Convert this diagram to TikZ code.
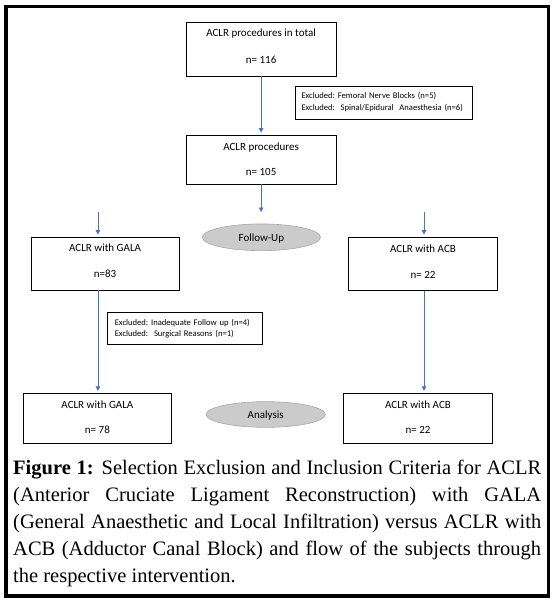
\documentclass[tikz,border=0pt]{standalone}
\usepackage{fontspec}
\setmainfont{Liberation Serif}
\newfontfamily\carl{Carlito}
\usetikzlibrary{shapes.geometric,arrows.meta}
\definecolor{arrowblue}{HTML}{4472C4}
\definecolor{ellfill}{HTML}{CBCBCB}
\definecolor{elldraw}{HTML}{A8A8A8}
\begin{document}
\begin{tikzpicture}[x=1pt,y=-1pt,
  box/.style={draw=black,line width=0.8pt,inner sep=0pt},
  lbl/.style={anchor=base,inner sep=0pt,font=\carl\fontsize{11}{13}\selectfont},
  excl/.style={draw=black,line width=0.8pt,inner ysep=0pt,align=left,
    font=\carl\fontsize{8.6}{12}\selectfont\frenchspacing},
  oval/.style={ellipse,draw=elldraw,fill=ellfill,line width=0.6pt,inner sep=0pt},
  arr/.style={draw=arrowblue,line width=0.8pt,-{Triangle[width=4.5pt,length=4.5pt]},shorten >=2pt},
]
\useasboundingbox (0,0) rectangle (556,604);
\draw[line width=3.5pt] (5.8,6.7) rectangle (548.3,595.8);

% top boxes
\node[box,minimum width=149.8pt,minimum height=54pt] (b1) at (261.1,49) {};
\node[lbl] (b1a) at (261.1,36.5) {ACLR procedures in total};
\node[lbl] (b1b) at (261.1,63.5) {n= 116};

\node[excl,text width=164.6pt,inner xsep=6.5pt,minimum height=33pt] (e1) at (383.8,102.5)
  {Excluded: Femoral Nerve Blocks (n=5)\\Excluded:\ \ Spinal/Epidural\ \ Anaesthesia (n=6)};

\node[box,minimum width=149.8pt,minimum height=49pt] (b2) at (261.1,159.5) {};
\node[lbl] (b2a) at (261.1,150.5) {ACLR procedures};
\node[lbl] (b2b) at (261.1,175.5) {n= 105};

\coordinate (c2) at (261.1,212);
\coordinate (l0) at (97.9,212);
\coordinate (r0) at (424,212);

% middle row
\node[box,minimum width=148pt,minimum height=53pt] (g1) at (105.1,263.5) {};
\node[lbl] (g1a) at (105.1,251.5) {ACLR with GALA};
\node[lbl] (g1b) at (105.1,277.5) {n=83};

\node[oval,minimum width=118.1pt,minimum height=26.7pt] (fu) at (261.4,237.3) {};
\node[lbl] (fut) at (261.4,241) {Follow-Up};

\node[box,minimum width=149.2pt,minimum height=53.7pt] (a1) at (423,263.85) {};
\node[lbl] (a1a) at (423,252.5) {ACLR with ACB};
\node[lbl] (a1b) at (423,278.5) {n= 22};

\node[excl,text width=139.8pt,inner xsep=7.5pt,minimum height=31.6pt,
  font=\carl\fontsize{8.6}{11}\selectfont\frenchspacing] (e2) at (184.7,328.5)
  {Excluded: Inadequate Follow up (n=4)\\Excluded:\ \ Surgical Reasons (n=1)};

% bottom row
\node[box,minimum width=147.3pt,minimum height=50pt] (g2) at (97.4,418.3) {};
\node[lbl] (g2a) at (97.4,408.5) {ACLR with GALA};
\node[lbl] (g2b) at (97.4,433.5) {n= 78};

\node[oval,minimum width=119.2pt,minimum height=25.7pt] (an) at (265.7,414.5) {};
\node[lbl] (ant) at (265.7,418) {Analysis};

\node[box,minimum width=148.8pt,minimum height=50pt] (a2) at (418,418.3) {};
\node[lbl] (a2a) at (418,408.5) {ACLR with ACB};
\node[lbl] (a2b) at (418,433.5) {n= 22};

% connectors
\draw[arr] (b1.south) -- (b2.north);
\draw[arr,shorten >=0pt] (b2.south) -- (c2);
\draw[arr] (l0) -- (l0 |- g1.north);
\draw[arr] (r0) -- (r0 |- a1.north);
\draw[arr] (g1.south -| l0) -- (g2.north -| l0);
\draw[arr] (a1.south -| r0) -- (a2.north -| r0);

% caption
\node[anchor=base west,inner sep=0pt,text width=528pt,align=justify,
  font=\fontsize{20.5}{27}\selectfont] (cap) at (13,474)
  {\tolerance=9999\hbadness=10000\textbf{Figure 1:} Selection Exclusion and Inclusion Criteria for ACLR\linebreak
  (Anterior Cruciate Ligament Reconstruction) with GALA\linebreak
  (General Anaesthetic and Local Infiltration) versus ACLR with\linebreak
  ACB (Adductor Canal Block) and flow of the subjects through\linebreak
  the respective intervention.};
\end{tikzpicture}
\end{document}
